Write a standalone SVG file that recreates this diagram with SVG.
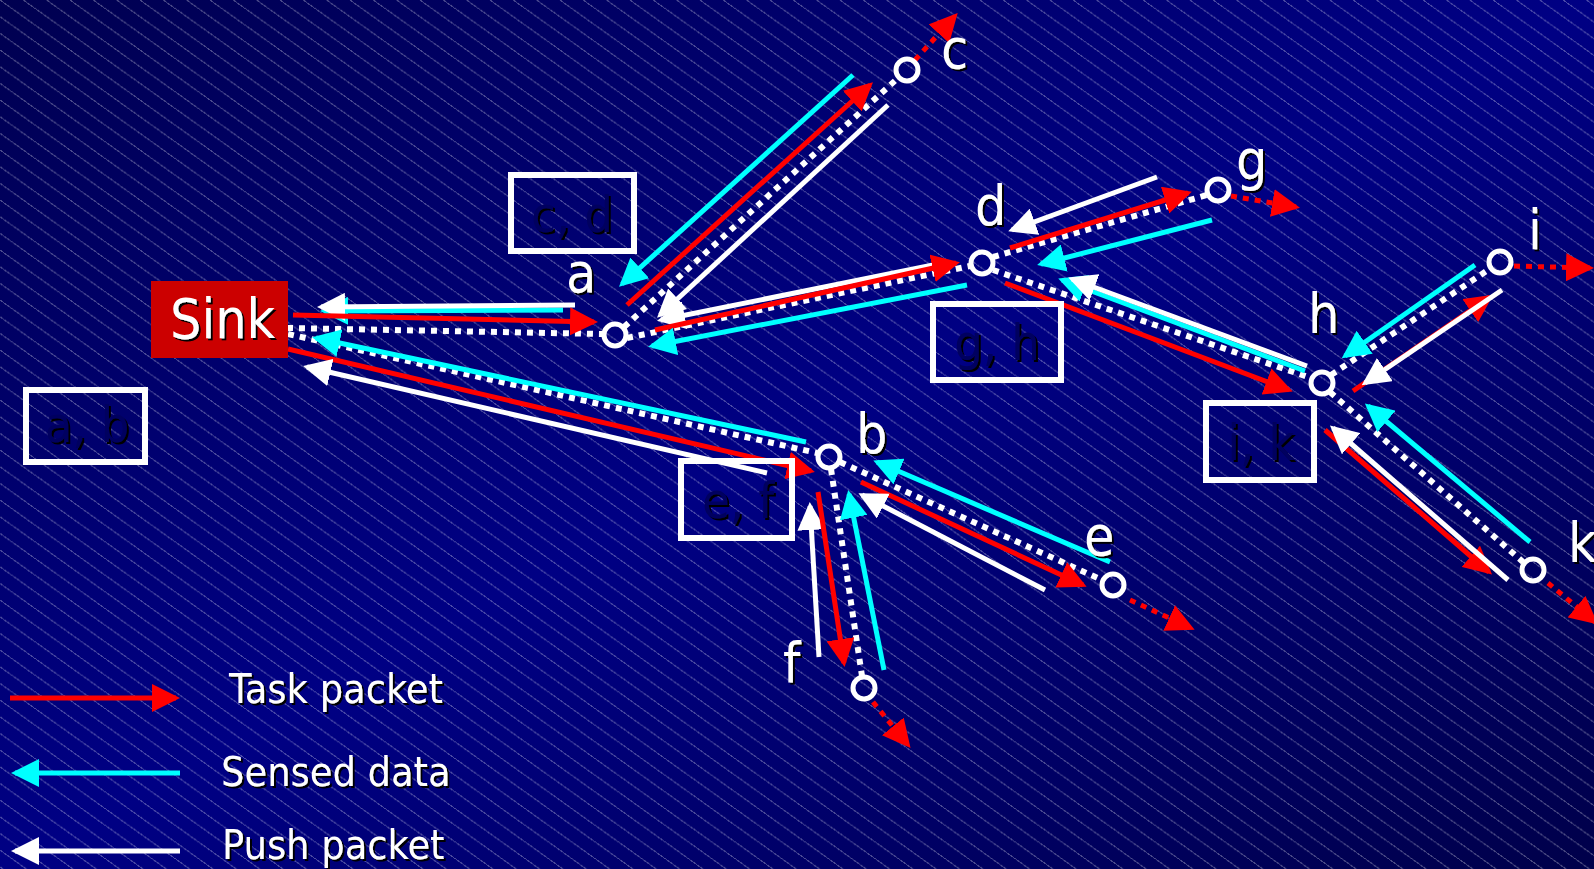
<svg xmlns="http://www.w3.org/2000/svg" width="1594" height="869" viewBox="0 0 1594 869">
<defs>
<linearGradient id="bg" x1="0" y1="0" x2="1" y2="1">
<stop offset="0" stop-color="#000050"/>
<stop offset="0.5" stop-color="#000084"/>
<stop offset="1" stop-color="#00004a"/>
</linearGradient>
<pattern id="hatch" patternUnits="userSpaceOnUse" width="23.33" height="16.67">
<line x1="0" y1="0" x2="23.33" y2="16.67" stroke="#ffffff" stroke-opacity="0.3" stroke-width="1" shape-rendering="crispEdges"/>
</pattern>
<filter id="sh" x="-20%" y="-20%" width="140%" height="140%">
<feDropShadow dx="2" dy="2" stdDeviation="0" flood-color="#000000" flood-opacity="1"/>
</filter>
<marker id="mr" viewBox="0 0 28 28" markerWidth="28" markerHeight="28" refX="24" refY="14" orient="auto" markerUnits="userSpaceOnUse"><path d="M0,0 L28,14 L0,28 z" fill="#ff0000"/></marker>
<marker id="mc" viewBox="0 0 28 28" markerWidth="28" markerHeight="28" refX="24" refY="14" orient="auto" markerUnits="userSpaceOnUse"><path d="M0,0 L28,14 L0,28 z" fill="#00ffff"/></marker>
<marker id="mw" viewBox="0 0 28 28" markerWidth="28" markerHeight="28" refX="24" refY="14" orient="auto" markerUnits="userSpaceOnUse"><path d="M0,0 L28,14 L0,28 z" fill="#ffffff"/></marker>
</defs>
<style>
.f{font-family:"DejaVu Sans Condensed","DejaVu Sans",sans-serif;}
.lbl{fill:#ffffff;font-size:55px;filter:url(#sh);}
.box rect{fill:none;stroke:#ffffff;stroke-width:6;}
.box text{fill:#000060;font-size:50px;text-anchor:middle;filter:url(#sh);}
.node circle{fill:none;stroke:#ffffff;stroke-width:5;}
.link{stroke:#ffffff;stroke-width:6;stroke-dasharray:6 6;fill:none;}
.out{stroke:#ff0000;stroke-width:5;stroke-dasharray:6 6;fill:none;marker-end:url(#mr);}
.r{stroke:#ff0000;stroke-width:5;fill:none;marker-end:url(#mr);}
.c{stroke:#00ffff;stroke-width:5;fill:none;marker-end:url(#mc);}
.w{stroke:#ffffff;stroke-width:5;fill:none;marker-end:url(#mw);}
.leg{fill:#ffffff;font-size:41px;filter:url(#sh);}
</style>
<rect x="0" y="0" width="1594" height="869" fill="url(#bg)"/>
<rect x="0" y="0" width="1594" height="869" fill="url(#hatch)"/>

<g id="connectors">
<!-- tree links (dotted) -->
<line class="link" x1="287" y1="328" x2="603" y2="334"/>
<line class="link" x1="288" y1="334" x2="817" y2="453"/>
<line class="link" x1="624" y1="327" x2="898" y2="78"/>
<line class="link" x1="627" y1="338" x2="970" y2="266"/>
<line class="link" x1="993" y1="257" x2="1207" y2="195"/>
<line class="link" x1="993" y1="270" x2="1311" y2="378"/>
<line class="link" x1="1331" y1="375" x2="1491" y2="268"/>
<line class="link" x1="1330" y1="392" x2="1523" y2="562"/>
<line class="link" x1="840" y1="462" x2="1102" y2="580"/>
<line class="link" x1="831" y1="469" x2="862" y2="676"/>
<!-- outgoing task packets (dotted red) -->
<line class="out" x1="915" y1="60" x2="955" y2="16"/>
<line class="out" x1="1231" y1="196" x2="1296" y2="207"/>
<line class="out" x1="1514" y1="266" x2="1590" y2="268"/>
<line class="out" x1="1548" y1="583" x2="1595" y2="622"/>
<line class="out" x1="1130" y1="600" x2="1191" y2="628"/>
<line class="out" x1="873" y1="702" x2="908" y2="745"/>
<!-- Sink - a -->
<line class="c" x1="563" y1="310" x2="324" y2="311"/>
<line class="w" x1="575" y1="305" x2="321" y2="307"/>
<line class="r" x1="293" y1="315" x2="594" y2="322"/>
<!-- Sink - b -->
<line class="c" x1="806" y1="442" x2="316" y2="338"/>
<line class="r" x1="288" y1="349" x2="811" y2="471"/>
<line class="w" x1="767" y1="473" x2="307" y2="367"/>
<!-- a - c -->
<line class="c" x1="853" y1="75" x2="622" y2="284"/>
<line class="r" x1="627" y1="305" x2="870" y2="85"/>
<line class="w" x1="888" y1="105" x2="660" y2="315"/>
<!-- a - d -->
<line class="w" x1="943" y1="263" x2="661" y2="320"/>
<line class="r" x1="655" y1="330" x2="956" y2="263"/>
<line class="c" x1="967" y1="285" x2="652" y2="346"/>
<!-- d - g -->
<line class="w" x1="1157" y1="177" x2="1012" y2="230"/>
<line class="r" x1="1010" y1="248" x2="1188" y2="193"/>
<line class="c" x1="1212" y1="220" x2="1041" y2="264"/>
<!-- d - h -->
<line class="c" x1="1305" y1="371" x2="1062" y2="280"/>
<line class="w" x1="1307" y1="366" x2="1072" y2="279"/>
<line class="r" x1="1005" y1="283" x2="1289" y2="390"/>
<!-- h - i -->
<line class="c" x1="1475" y1="265" x2="1345" y2="356"/>
<line class="r" x1="1353" y1="391" x2="1490" y2="297"/>
<line class="w" x1="1502" y1="290" x2="1365" y2="383"/>
<!-- h - k -->
<line class="c" x1="1530" y1="542" x2="1368" y2="406"/>
<line class="r" x1="1325" y1="430" x2="1489" y2="572"/>
<line class="w" x1="1508" y1="580" x2="1333" y2="428"/>
<!-- b - e -->
<line class="c" x1="1110" y1="562" x2="877" y2="462"/>
<line class="r" x1="861" y1="482" x2="1083" y2="585"/>
<line class="w" x1="1045" y1="590" x2="862" y2="495"/>
<!-- b - f -->
<line class="w" x1="819" y1="657" x2="810" y2="506"/>
<line class="r" x1="818" y1="492" x2="844" y2="663"/>
<line class="c" x1="884" y1="670" x2="849" y2="494"/>
</g>

<g id="sink">
<rect x="151" y="281" width="137" height="77" fill="#cc0000"/>
<text class="f lbl" x="170" y="338" font-size="54">Sink</text>
</g>
<g id="node-a" class="node"><circle cx="615" cy="335" r="11"/><text class="f lbl" x="566" y="292">a</text></g>
<g id="node-b" class="node"><circle cx="829" cy="457" r="11"/><text class="f lbl" x="856" y="453">b</text></g>
<g id="node-c" class="node"><circle cx="907" cy="70" r="11"/><text class="f lbl" x="941" y="68">c</text></g>
<g id="node-d" class="node"><circle cx="982" cy="263" r="11"/><text class="f lbl" x="975" y="225">d</text></g>
<g id="node-e" class="node"><circle cx="1113" cy="585" r="11"/><text class="f lbl" x="1084" y="555">e</text></g>
<g id="node-f" class="node"><circle cx="864" cy="688" r="11"/><text class="f lbl" x="783" y="682">f</text></g>
<g id="node-g" class="node"><circle cx="1218" cy="190" r="11"/><text class="f lbl" x="1236" y="179">g</text></g>
<g id="node-h" class="node"><circle cx="1322" cy="383" r="11"/><text class="f lbl" x="1308" y="333">h</text></g>
<g id="node-i" class="node"><circle cx="1500" cy="262" r="11"/><text class="f lbl" x="1528" y="249">i</text></g>
<g id="node-k" class="node"><circle cx="1533" cy="570" r="11"/><text class="f lbl" x="1568" y="562">k</text></g>

<g id="box-cd" class="box"><rect x="511" y="175" width="123" height="76"/><text class="f" x="572" y="232">c, d</text></g>
<g id="box-gh" class="box"><rect x="933" y="304" width="128" height="76"/><text class="f" x="997" y="360">g, h</text></g>
<g id="box-ik" class="box"><rect x="1206" y="403" width="108" height="77"/><text class="f" x="1261" y="460">i, k</text></g>
<g id="box-ef" class="box"><rect x="681" y="461" width="111" height="77"/><text class="f" x="738" y="518">e, f</text></g>
<g id="box-ab" class="box"><rect x="26" y="390" width="119" height="72"/><text class="f" x="87" y="442">a, b</text></g>

<g id="legend">
<line class="r" x1="10" y1="698" x2="176" y2="698"/>
<line class="c" x1="180" y1="773" x2="15" y2="773"/>
<line class="w" x1="180" y1="851" x2="15" y2="851"/>
<text class="f leg" x="229" y="703">Task packet</text>
<text class="f leg" x="221" y="786">Sensed data</text>
<text class="f leg" x="222" y="859">Push packet</text>
</g>
</svg>
